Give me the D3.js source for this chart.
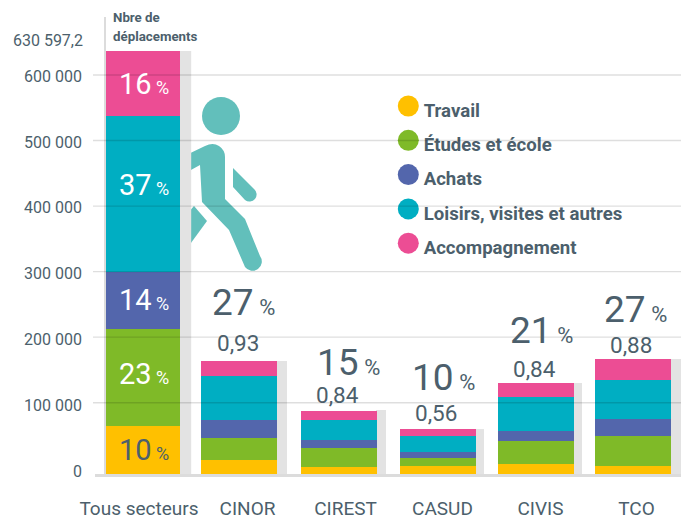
<!DOCTYPE html>
<html>
<head>
<meta charset="utf-8">
<script src="https://cdn.jsdelivr.net/npm/d3@7"></script>
<style>
  html, body { margin: 0; padding: 0; background: #fff; }
  svg { display: block; font-family: Roboto, sans-serif; }
</style>
</head>
<body>
<svg id="chart" width="689" height="519"></svg>
<script>
const categories = ['Tous secteurs', 'CINOR', 'CIREST', 'CASUD', 'CIVIS', 'TCO'];
const motifs = ['Travail', 'Études et école', 'Achats', 'Loisirs, visites et autres', 'Accompagnement'];

// values, one array per motif
const travail = [67700, 19600, 9800, 11200, 14000, 11200];
const etudes = [144750, 30900, 26700, 11200, 32300, 42100];
const achats = [87450, 25650, 11200, 8400, 14000, 23850];
const loisirs = [237500, 64600, 28500, 22400, 48400, 57500];
const accompagnement = [93197, 22900, 12200, 9800, 21400, 32000];

const tousPct = [10, 23, 14, 37, 16];
const sectorPct = [27, 15, 10, 21, 27];
const sectorRate = ['0,93', '0,84', '0,56', '0,84', '0,88'];
const yTicks = [0, 100000, 200000, 300000, 400000, 500000, 600000];
const maxValue = 630597.2;

const colors = ['#ffc000', '#7fba28', '#5366ac', '#00aec2', '#ec4d94'];
const textColor = '#4c5f6c';

const svg = d3.select('#chart');

const rows = categories.map((c, i) => ({
  cat: c, 0: travail[i], 1: etudes[i], 2: achats[i], 3: loisirs[i], 4: accompagnement[i]
}));
const stacked = d3.stack().keys([0, 1, 2, 3, 4])(rows);

// the gridlines of the original are not evenly spaced at the bottom
const y = d3.scaleLinear().domain([0, 100000, 600000, maxValue]).range([474, 402.7, 75, 51]);
const yLabel = d3.scaleLinear().domain([0, 600000]).range([471.5, 76]);

const x = d3.scaleOrdinal().domain(categories).range([105.7, 201, 301, 400, 498, 595]);
const xLabel = d3.scaleOrdinal().domain(categories).range([138.5, 247, 345, 442, 540, 636]);
const barW = d3.scaleOrdinal().domain(categories).range([74.5, 76, 76, 76, 76, 76]);
const shadowW = d3.scaleOrdinal().domain(categories).range([11, 10, 9, 8, 8, 10]);

// walking figure
const walker = svg.append('g').attr('fill', '#62bfbb');
walker.append('circle').attr('cx', 221).attr('cy', 116).attr('r', 19);
walker.append('path').attr('d', 'M180,158 L205,146 Q213,142 219,146 Q225,150 225,157 L225,199 L245,219 L260,256 A8.5,8.5 0 0 1 245,267 L229,230 L202,202 L200,165 L180,176 Z');
walker.append('path').attr('d', 'M233,168 L254,189 A6,6 0 0 1 245,200 L233,187 Z');
walker.append('path').attr('d', 'M194,206 L207,221 L180,258 L180,222 Z');

// thin vertical rule left of the first bar
svg.append('rect').attr('x', 104).attr('y', 17).attr('width', 2).attr('height', 457).attr('fill', '#dcdcdc');

// grey shadows behind the bars
svg.append('g').selectAll('rect').data(rows).join('rect')
  .attr('x', d => x(d.cat) + barW(d.cat) - 1)
  .attr('y', (d, i) => y(stacked[4][i][1]) - (i === 2 ? 1 : 0))
  .attr('width', d => shadowW(d.cat) + 1)
  .attr('height', (d, i) => y(0) - y(stacked[4][i][1]) + (i === 2 ? 1 : 0))
  .attr('fill', '#e3e3e3');

// stacked bars
svg.append('g').attr('shape-rendering', 'crispEdges')
  .selectAll('g').data(stacked).join('g')
  .attr('fill', (d, i) => colors[i])
  .selectAll('rect').data(d => d).join('rect')
  .attr('x', d => x(d.data.cat))
  .attr('y', d => y(d[1]))
  .attr('width', d => barW(d.data.cat))
  .attr('height', d => y(d[0]) - y(d[1]));

// legend
const legend = svg.append('g').selectAll('g').data(motifs).join('g')
  .attr('transform', (d, i) => `translate(408.3,${106 + i * 34.3})`);
legend.append('circle').attr('r', 10.5).attr('fill', (d, i) => colors[i]);
legend.append('text')
  .attr('x', 15.4).attr('y', 10.7)
  .attr('font-size', 18.6).attr('font-weight', 700).attr('fill', textColor)
  .text(d => d);

// gridlines sit on top of the bars
svg.append('g').selectAll('line').data(yTicks.slice(1)).join('line')
  .attr('x1', 93).attr('x2', 681)
  .attr('y1', d => y(d)).attr('y2', d => y(d))
  .attr('stroke', '#000').attr('stroke-opacity', 0.13).attr('stroke-width', 1.4);

svg.append('line')
  .attr('x1', 95).attr('x2', 681).attr('y1', y(0) + 1.5).attr('y2', y(0) + 1.5)
  .attr('stroke', '#dcdcdc').attr('stroke-width', 3);

// axes
const fr = d3.formatLocale({ decimal: ',', thousands: ' ', grouping: [3], currency: ['', ''] });

const yAxis = svg.append('g')
  .attr('transform', 'translate(82,0)')
  .call(d3.axisLeft(yLabel).tickValues(yTicks).tickFormat(fr.format(',')).tickSize(0).tickPadding(0));
yAxis.select('.domain').remove();
yAxis.selectAll('text').attr('font-size', 16).attr('fill', textColor).attr('font-family', 'Roboto, sans-serif');

const xAxis = svg.append('g')
  .attr('transform', 'translate(0,501)')
  .call(d3.axisBottom(xLabel).tickSize(0).tickPadding(0));
xAxis.select('.domain').remove();
xAxis.selectAll('text').attr('font-size', 19).attr('fill', textColor).attr('font-family', 'Roboto, sans-serif');

svg.append('text').attr('x', 83).attr('y', 46).attr('text-anchor', 'end')
  .attr('font-size', 16).attr('fill', textColor).text(fr.format(',.1f')(maxValue));

const header = svg.append('g').attr('font-size', 13.3).attr('font-weight', 700).attr('fill', textColor);
header.append('text').attr('x', 113).attr('y', 22).text('Nbre de');
header.append('text').attr('x', 113).attr('y', 41).text('déplacements');

// percentage labels inside the first bar
const pctLabel = (g, value, px, py, big, small, fill) => {
  const t = g.append('text').attr('x', px).attr('y', py).attr('fill', fill)
    .attr('font-weight', 400).attr('font-size', big);
  t.append('tspan').text(value);
  t.append('tspan').attr('dx', big * 0.15).attr('font-size', small).text('%');
};

const tousGap = [10, 7, 10, 1, 10];
const tousLabels = svg.append('g');
tousPct.forEach((p, i) => {
  const col = stacked[i][0];
  const py = (y(col[0]) + y(col[1])) / 2 + tousGap[i];
  pctLabel(tousLabels, p, 119, py, 29, 18, i === 0 ? textColor : '#fff');
});

// labels above the sector bars
const sectors = categories.slice(1);
const rateX = [217, 316, 415, 513, 610];
const rateGap = [10, 8, 8, 6, 6];
const pctX = [212, 317, 412, 510, 604];
const pctGap = [36, 28, 31, 34, 31];

const sectorLabels = svg.append('g');
sectors.forEach((c, i) => {
  const top = y(stacked[4][i + 1][1]);
  sectorLabels.append('text')
    .attr('x', rateX[i]).attr('y', top - rateGap[i])
    .attr('font-size', 22.5).attr('font-weight', 400).attr('fill', textColor)
    .text(sectorRate[i]);
  pctLabel(sectorLabels, sectorPct[i], pctX[i], top - rateGap[i] - pctGap[i], 37, 22, textColor);
});
</script>
</body>
</html>
